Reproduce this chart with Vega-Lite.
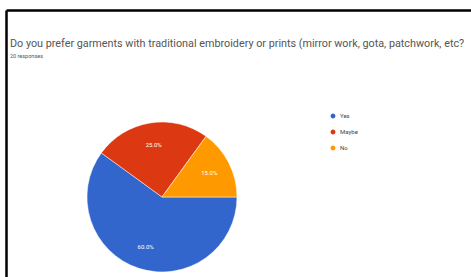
{
  "$schema": "https://vega.github.io/schema/vega-lite/v6.json",
  "autosize": "none",
  "width": 465,
  "height": 267,
  "padding": {"left": 6, "top": 10, "right": 0, "bottom": 0},
  "background": "white",
  "view": {"stroke": null},
  "title": {
    "text": "Do you prefer garments with traditional embroidery or prints (mirror work, gota, patchwork, etc?",
    "subtitle": "20 responses",
    "orient": "top",
    "anchor": "start",
    "frame": "group",
    "offset": -52,
    "dx": 4,
    "font": "Roboto",
    "fontSize": 10.8,
    "fontWeight": "normal",
    "color": "#555555",
    "subtitleFont": "Roboto",
    "subtitleFontSize": 5.5,
    "subtitleColor": "#555555",
    "subtitlePadding": 5
  },
  "data": {
    "values": [
      {"answer": "Yes", "value": 60, "label": "60.0%", "idx": 1},
      {"answer": "Maybe", "value": 25, "label": "25.0%", "idx": 2},
      {"answer": "No", "value": 15, "label": "15.0%", "idx": 3}
    ]
  },
  "layer": [
    {
      "mark": {"type": "point", "opacity": 0},
      "encoding": {
        "x": {"field": "value", "type": "quantitative", "axis": {"orient": "top", "domainColor": "black", "domainWidth": 2.5, "ticks": false, "labels": false, "title": null, "grid": false}},
        "y": {"field": "idx", "type": "quantitative", "axis": {"orient": "left", "domainColor": "black", "domainWidth": 2.5, "ticks": false, "labels": false, "title": null, "grid": false}}
      }
    },
    {
      "mark": {"type": "arc", "outerRadius": 75, "x": 156, "y": 187, "stroke": "white", "strokeWidth": 0.5},
      "encoding": {
        "theta": {"field": "value", "type": "quantitative", "stack": true, "scale": {"range": [1.5708, 7.854]}},
        "order": {"field": "idx", "type": "quantitative"},
        "color": {
          "field": "answer",
          "type": "nominal",
          "scale": {"domain": ["Yes", "Maybe", "No"], "range": ["#3366CC", "#DC3912", "#FF9900"]},
          "legend": {
            "title": null,
            "orient": "none",
            "legendX": 323,
            "legendY": 102,
            "symbolType": "circle",
            "symbolSize": 40,
            "labelFont": "Roboto",
            "labelFontSize": 6,
            "labelColor": "#444444",
            "rowPadding": 2,
            "labelOffset": 3
          }
        }
      }
    },
    {
      "mark": {"type": "text", "radius": 53, "x": 156, "y": 187, "fill": "white", "font": "Roboto", "fontSize": 6},
      "encoding": {
        "theta": {"field": "value", "type": "quantitative", "stack": true},
        "order": {"field": "idx", "type": "quantitative"},
        "detail": {"field": "answer", "type": "nominal"},
        "text": {"field": "label"}
      }
    }
  ]
}
